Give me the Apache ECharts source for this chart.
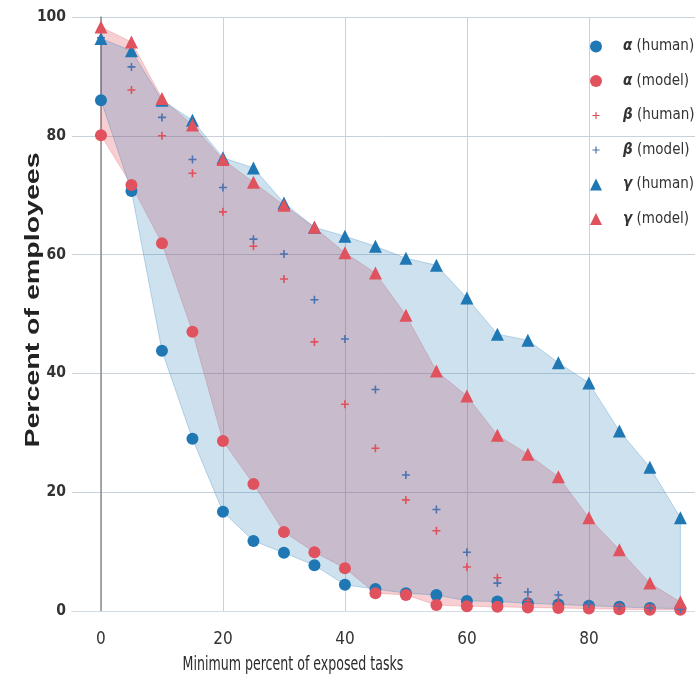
<!DOCTYPE html>
<html>
<head>
<meta charset="UTF-8">
<title>Percent of employees</title>
<script type="text/javascript" src="https://cdn.jsdelivr.net/npm/echarts@6/dist/echarts.min.js"></script>
<style>
  html, body { margin: 0; padding: 0; background: #fff; }
</style>
</head>
<body>
    <div id="main" style="width: 695px; height: 682px;"></div>
    <script type="text/javascript">
        // minimum percent of exposed tasks
        var xs = [0, 5, 10, 15, 20, 25, 30, 35, 40, 45, 50, 55, 60, 65, 70, 75, 80, 85, 90, 95];
        var xTicks = [0, 20, 40, 60, 80];

        // percent of employees
        var alphaHuman = [86.0, 70.7, 43.8, 29.0, 16.7, 11.8, 9.8, 7.7, 4.4, 3.7, 3.0, 2.7, 1.7, 1.6, 1.3, 1.1, 0.9, 0.7, 0.5, 0.4];
        var alphaModel = [80.1, 71.7, 61.9, 47.0, 28.6, 21.4, 13.3, 9.9, 7.2, 3.0, 2.7, 1.0, 0.8, 0.7, 0.6, 0.5, 0.4, 0.3, 0.2, 0.2];
        var betaHuman  = [98.0, 87.7, 80.0, 73.7, 67.2, 61.4, 55.9, 45.3, 34.8, 27.4, 18.7, 13.5, 7.4, 5.6, 1.8, 1.4, 1.0, 0.7, 0.5, 0.3];
        var betaModel  = [96.5, 91.6, 83.1, 76.0, 71.3, 62.6, 60.1, 52.4, 45.8, 37.3, 22.9, 17.1, 9.9, 4.7, 3.2, 2.7, 1.2, 0.8, 0.5, 0.3];
        var gammaHuman = [96.4, 94.3, 86.0, 82.6, 76.3, 74.6, 68.7, 64.6, 63.1, 61.4, 59.4, 58.2, 52.7, 46.6, 45.6, 41.8, 38.4, 30.3, 24.2, 15.7];
        var gammaModel = [98.3, 95.8, 86.3, 81.8, 76.0, 72.2, 68.3, 64.6, 60.3, 56.9, 49.8, 40.4, 36.2, 29.6, 26.4, 22.6, 15.7, 10.3, 4.7, 1.5];

        var narrow = "'Liberation Sans Narrow', 'DejaVu Sans Condensed', sans-serif";
        var blue = '#1f77b4';
        var red = '#e0525d';
        var plus = 'path://M4,0 H6 V4 H10 V6 H6 V10 H4 V6 H0 V4 H4 Z';
        // same plus with empty margin so the legend icon stays small
        var plusIcon = 'path://M0,0 M20,20 M9,4 H11 V9 H16 V11 H11 V16 H9 V11 H4 V9 H9 Z';

        function pairs(ys) {
            return xs.map(function (x, i) { return [x, ys[i]]; });
        }

        // filled band between two curves, drawn as one polygon
        function band(name, lower, upper, fill, stroke, z) {
            return {
                name: name,
                type: 'custom',
                z: z,
                silent: true,
                data: xs.map(function (x, i) { return [x, lower[i], upper[i]]; }),
                renderItem: function (params, api) {
                    if (params.dataIndex !== 0) return;
                    var pts = [];
                    for (var i = 0; i < xs.length; i++) pts.push(api.coord([xs[i], upper[i]]));
                    for (var j = xs.length - 1; j >= 0; j--) pts.push(api.coord([xs[j], lower[j]]));
                    return {
                        type: 'polygon',
                        shape: { points: pts },
                        style: { fill: fill, stroke: stroke, lineWidth: 1 }
                    };
                }
            };
        }

        function dots(name, ys, symbol, size, color) {
            return {
                name: name,
                type: 'scatter',
                z: 5,
                symbol: symbol,
                symbolSize: size,
                itemStyle: { color: color, opacity: 1 },
                data: pairs(ys)
            };
        }

        var myChart = echarts.init(document.getElementById('main'));

        var option = {
            animation: false,
            grid: { left: 72, right: 0, top: 17, bottom: 71 },
            graphic: [{
                type: 'text',
                x: 33,
                y: 300,
                rotation: Math.PI / 2,
                scaleX: 1.36,
                style: {
                    text: 'Percent of employees',
                    font: "bold 21px 'Liberation Sans', Arial, sans-serif",
                    fill: '#222',
                    textAlign: 'center',
                    textVerticalAlign: 'middle'
                }
            }, {
                // axis title, stretched like the source picture
                type: 'text',
                x: 293,
                y: 665,
                scaleY: 1.35,
                style: {
                    text: 'Minimum percent of exposed tasks',
                    font: "14px 'DejaVu Sans Condensed', sans-serif",
                    fill: '#2b2b2b',
                    textAlign: 'center',
                    textVerticalAlign: 'middle'
                }
            }],
            legend: {
                orient: 'vertical',
                left: 585,
                top: 34,
                itemWidth: 12,
                itemHeight: 12,
                itemGap: 19.5,
                data: [
                    { name: 'α (human)', icon: 'circle' },
                    { name: 'α (model)', icon: 'circle' },
                    { name: 'β (human)', icon: plusIcon },
                    { name: 'β (model)', icon: plusIcon },
                    { name: 'γ (human)', icon: 'triangle' },
                    { name: 'γ (model)', icon: 'triangle' }
                ],
                formatter: function (name) {
                    return '{g|' + name.charAt(0) + '} ' + name.slice(2);
                },
                textStyle: {
                    fontFamily: narrow,
                    fontSize: 15,
                    lineHeight: 14,
                    padding: [0, 0, 0, 16],
                    color: '#333',
                    rich: {
                        g: { fontFamily: narrow, fontSize: 15, lineHeight: 14, fontStyle: 'italic', fontWeight: 'bold', color: '#333' }
                    }
                }
            },
            xAxis: {
                type: 'value',
                min: -4.75,
                max: 97.4,
                axisLine: { lineStyle: { color: '#d3dbe3', width: 1 } },
                axisTick: { show: false, customValues: xTicks },
                axisLabel: {
                    customValues: xTicks,
                    margin: 20,
                    fontFamily: narrow,
                    fontSize: 17,
                    color: '#333'
                },
                splitLine: { show: true, lineStyle: { color: '#c9d2db', width: 1 } }
            },
            yAxis: {
                type: 'value',
                min: 0,
                max: 100,
                interval: 20,
                axisLine: { show: true, lineStyle: { color: '#8c8c8c', width: 1.5 } },
                axisTick: { show: false },
                axisLabel: {
                    margin: 6,
                    fontFamily: narrow,
                    fontSize: 15.5,
                    fontWeight: 'bold',
                    color: '#333'
                },
                splitLine: { lineStyle: { color: '#c9d2db', width: 1 } }
            },
            series: [
                band('model band', alphaModel, gammaModel, 'rgba(224, 70, 80, 0.26)', 'rgba(224, 70, 80, 0.25)', 1),
                band('human band', alphaHuman, gammaHuman, 'rgba(31, 119, 180, 0.22)', 'rgba(31, 119, 180, 0.28)', 2),
                dots('α (human)', alphaHuman, 'circle', 12, blue),
                dots('α (model)', alphaModel, 'circle', 12, red),
                dots('β (human)', betaHuman, plus, 8, '#e0505c'),
                dots('β (model)', betaModel, plus, 8, '#4c72b0'),
                dots('γ (human)', gammaHuman, 'triangle', 13, blue),
                dots('γ (model)', gammaModel, 'triangle', 13, red)
            ]
        };

        myChart.setOption(option);
    </script>
</body>
</html>
